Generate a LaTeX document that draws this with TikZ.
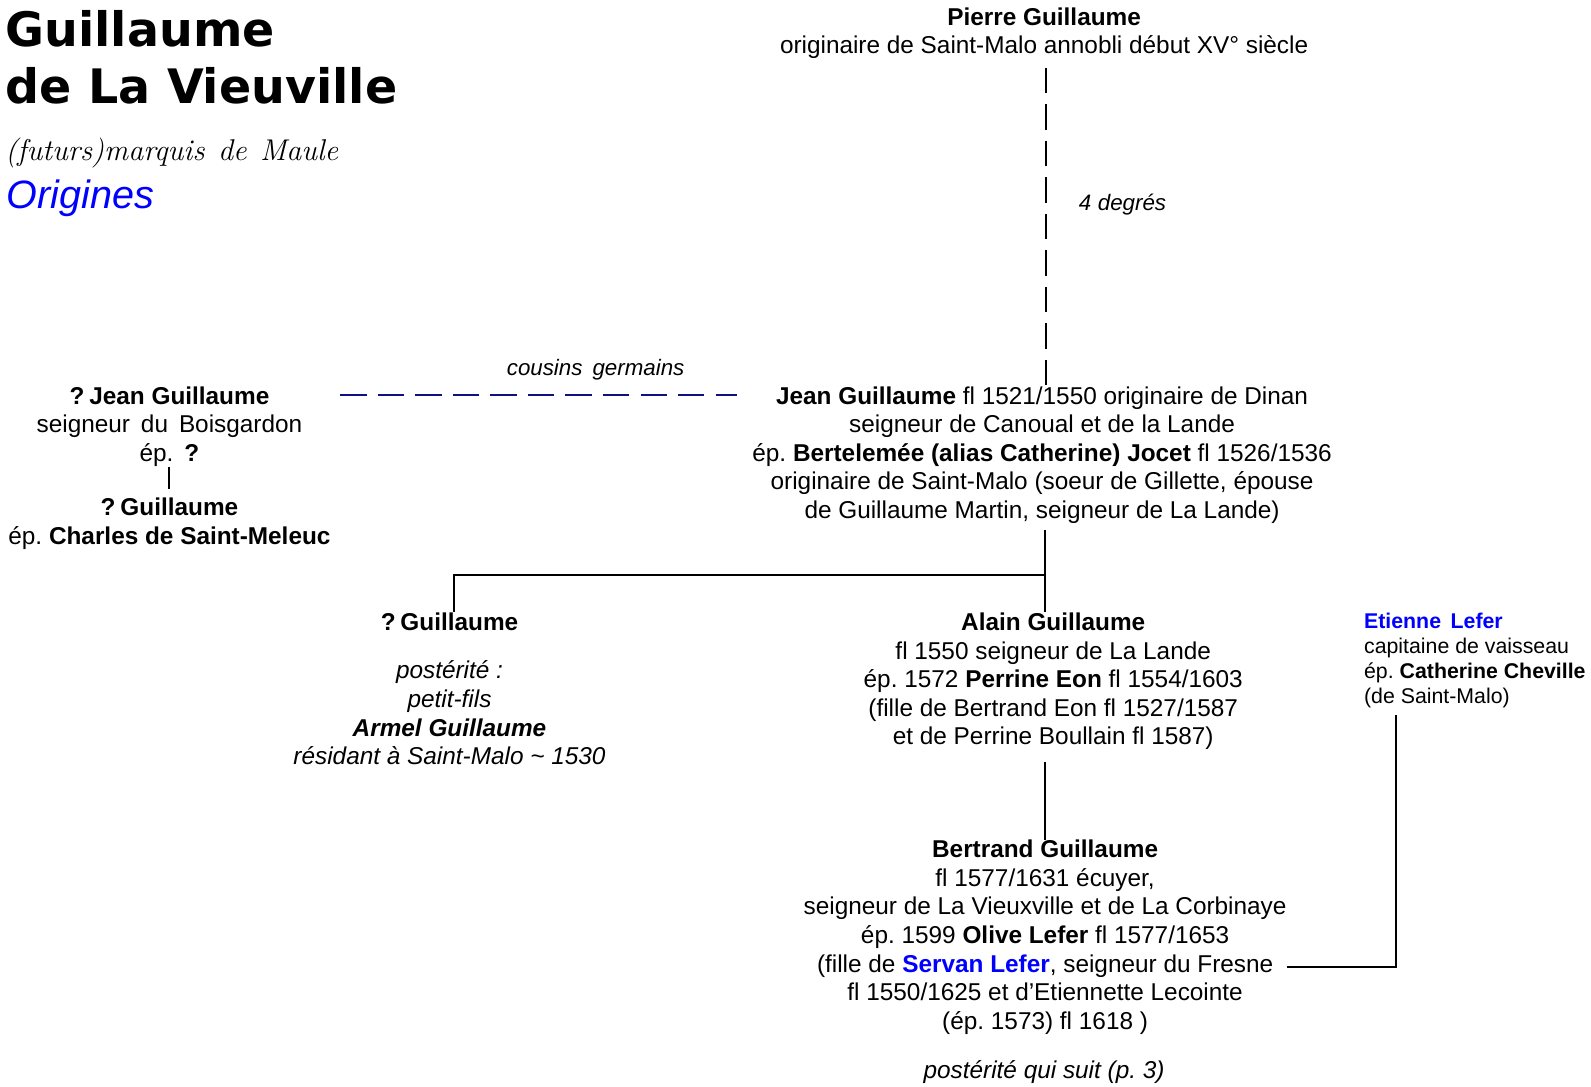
\documentclass[tikz,border=0pt]{standalone}
\usepackage{fontspec}
\newfontfamily\arial{Liberation Sans}
\newfontfamily\verdana{DejaVu Sans}
\usetikzlibrary{positioning}
\definecolor{linkblue}{RGB}{0,0,255}
\definecolor{cousinblue}{RGB}{16,16,128}
\newcommand\wsp{\hspace{0.45em}}
\frenchspacing
\tikzset{
  person/.style={align=center, inner sep=0pt, font=\arial\fontsize{12}{14.1}\selectfont},
  note/.style={align=center, inner sep=0pt, text=black, font=\arial\itshape\fontsize{11}{13}\selectfont},
  small/.style={align=left, inner sep=0pt, font=\arial\fontsize{10.5}{12.25}\selectfont},
  line/.style={line width=1pt},
  degree/.style={line width=1.2pt, dash pattern=on 12.5pt off 5.5pt},
  cousin/.style={line width=1.2pt, cousinblue, dash pattern=on 13pt off 5.5pt},
}
\begin{document}
\begin{tikzpicture}[x=0.5pt,y=-0.5pt]
  \useasboundingbox (0,0) rectangle (1568,1071);
  % Titre
  \node[anchor=north west, inner sep=0pt, align=left,
        font=\verdana\bfseries\fontsize{23.4}{28}\selectfont] (title) at (5,10)
    {Guillaume\\de La Vieuville};
  \node[anchor=base west, inner sep=0pt, font=\itshape\fontsize{14.8}{18}\selectfont] (subtitle) at (5,158)
    {(futurs)marquis\wsp de\wsp Maule};
  \node[anchor=base west, inner sep=0pt, text=linkblue,
        font=\arial\itshape\fontsize{19.5}{22}\selectfont] (origins) at (6,205) {Origines};
  % Personnes
  \node[person, anchor=north, font=\arial\fontsize{12}{13.5}\selectfont] (pierre) at (1029,7.5)
    {\textbf{Pierre Guillaume}\\originaire de Saint-Malo annobli début XV° siècle};
  \node[person, anchor=north] (jean) at (1027,380.5)
    {\textbf{Jean Guillaume} fl 1521/1550 originaire de Dinan\\
     seigneur de Canoual et de la Lande\\
     ép. \textbf{Bertelemée (alias Catherine) Jocet} fl 1526/1536\\
     originaire de Saint-Malo (soeur de Gillette, épouse\\
     de Guillaume Martin, seigneur de La Lande)};
  \node[person, anchor=north] (qjean) at (167,380.5)
    {\textbf{?\kern0.2em Jean Guillaume}\\seigneur\wsp du\wsp Boisgardon\\ép.\wsp\textbf{?}};
  \node[person, anchor=north] (qguil) at (167,490.5)
    {\textbf{?\kern0.2em Guillaume}\\ép. \textbf{Charles de Saint-Meleuc}};
  \node[person, anchor=north] (qguil2) at (443,603.5) {\textbf{?\kern0.2em Guillaume}};
  \node[person, anchor=north, font=\arial\itshape\fontsize{12}{14.1}\selectfont] (armel) at (443,651)
    {postérité :\\petit-fils\\\textbf{Armel Guillaume}\\résidant à Saint-Malo \textasciitilde{} 1530};
  \node[person, anchor=north] (alain) at (1038,603.5)
    {\textbf{Alain Guillaume}\\
     fl 1550 seigneur de La Lande\\
     ép. 1572 \textbf{Perrine Eon} fl 1554/1603\\
     (fille de Bertrand Eon fl 1527/1587\\
     et de Perrine Boullain fl 1587)};
  \node[person, anchor=north] (bertrand) at (1030,827.5)
    {\textbf{Bertrand Guillaume}\\
     fl 1577/1631 écuyer,\\
     seigneur de La Vieuxville et de La Corbinaye\\
     ép. 1599 \textbf{Olive Lefer} fl 1577/1653\\
     (fille de \textbf{\textcolor{linkblue}{Servan Lefer}}, seigneur du Fresne\\
     fl 1550/1625 et d’Etiennette Lecointe\\
     (ép. 1573) fl 1618 )};
  \node[person, anchor=north, font=\arial\itshape\fontsize{12}{14.1}\selectfont] (suite) at (1029,1044.5)
    {postérité qui suit (p. 3)};
  \node[small, anchor=north west] (etienne) at (1344,604)
    {\textbf{\textcolor{linkblue}{Etienne\wsp Lefer}}\\
     capitaine de vaisseau\\
     ép. \textbf{Catherine Cheville}\\
     (de Saint-Malo)};
  % Liens
  \draw[degree, shorten <=4.5pt] ([xshift=1pt]pierre.south) -- ([xshift=1pt]pierre.south |- jean.north)
    node[pos=0.447, right=15.5pt, note] {4\hspace{0.3em}degrés};
  \draw[cousin, shorten <=18.5pt, shorten >=7.5pt]
    ([yshift=-4.5pt]qjean.north east) -- ([yshift=-4.5pt]jean.north west)
    node[pos=0.652, above=7pt, note] {cousins\wsp germains};
  \draw[line, shorten >=4.25pt] (qjean.south) -- (qguil.north);
  \coordinate (fork) at ([xshift=1.5pt,yshift=-25pt]jean.south);
  \draw[line, shorten <=3pt] ([xshift=1.5pt]jean.south) -- (fork) -| ([xshift=2pt]qguil2.north);
  \draw[line] (fork) -- (fork |- alain.north);
  \draw[line, shorten <=6pt] (alain.south -| bertrand.north) -- (bertrand.north);
  \coordinate (tie) at ([xshift=16pt,yshift=-3.5pt]etienne.south west);
  \draw[line] (tie) |- ([yshift=-14.8pt]bertrand.east);
\end{tikzpicture}
\end{document}
